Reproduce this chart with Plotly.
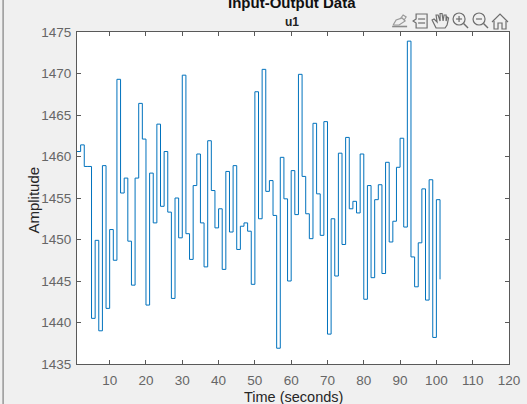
import plotly.graph_objects as go

time_s = list(range(1, 102))
amplitude = [
    1460.6, 1461.4, 1458.8, 1458.8, 1440.5, 1449.9, 1439.0, 1458.9, 1441.7, 1451.2,
    1447.5, 1469.3, 1455.6, 1457.4, 1449.8, 1444.5, 1457.4, 1466.4, 1462.1, 1442.1,
    1458.0, 1452.0, 1463.9, 1454.0, 1460.6, 1453.3, 1442.9, 1455.0, 1450.2, 1469.8,
    1450.7, 1447.6, 1456.5, 1460.3, 1452.0, 1446.7, 1461.9, 1455.9, 1451.4, 1453.7,
    1446.4, 1458.2, 1450.9, 1458.9, 1448.8, 1451.6, 1452.0, 1451.0, 1444.6, 1467.8,
    1452.5, 1470.5, 1455.8, 1457.1, 1452.9, 1436.9, 1459.9, 1454.9, 1445.0, 1458.3,
    1453.0, 1469.9, 1457.6, 1453.1, 1450.1, 1464.0, 1455.5, 1450.5, 1464.2, 1438.6,
    1452.5, 1445.6, 1460.4, 1449.4, 1462.3, 1453.7, 1454.6, 1453.2, 1460.3, 1442.8,
    1456.5, 1445.4, 1454.8, 1456.6, 1445.9, 1459.3, 1449.7, 1452.2, 1458.7, 1462.2,
    1451.5, 1473.9, 1447.9, 1444.3, 1449.6, 1456.1, 1442.7, 1457.2, 1438.2, 1454.8,
    1445.2,
]
x_ticks = [10, 20, 30, 40, 50, 60, 70, 80, 90, 100, 110, 120]
y_ticks = [1435, 1440, 1445, 1450, 1455, 1460, 1465, 1470, 1475]

W, H = 527, 404
L, T, B = 76.5, 32, 40
PLOT_RIGHT = 509
BG = "#f0f0f0"
AX = "#595959"
FONT = "Liberation Sans, Arial, sans-serif"


def fx(px):
    return (px - L) / (PLOT_RIGHT - L)


def fy(py):
    return 1 - (py - T) / (H - T - B)


def line_path(pts, closed=False):
    d = "M" + " L".join(f"{fx(a):.5f},{fy(b):.5f}" for a, b in pts)
    return d + (" Z" if closed else "")


def icon_line(pts, closed=False, color="#6e6e6e", width=1.2):
    return dict(type="path", xref="paper", yref="paper", path=line_path(pts, closed),
                line=dict(color=color, width=width), layer="above")


def icon_circle(cx, cy, r):
    return dict(type="circle", xref="paper", yref="paper",
                x0=fx(cx - r), x1=fx(cx + r), y0=fy(cy + r), y1=fy(cy - r),
                line=dict(color="#6e6e6e", width=1.2), layer="above")


icons = [
    icon_line([(393, 25), (396, 20), (402, 18), (405, 21), (399, 25), (393, 25)], color="#9a9a9a"),
    icon_line([(400, 19), (403, 15), (406, 17), (404, 20)], color="#9a9a9a"),
    icon_line([(392, 26.5), (407, 26.5)], color="#8a8a8a", width=1.6),
    icon_line([(416, 14), (427, 14), (427, 28), (416, 28), (416, 23), (413, 21), (416, 19)], True),
    icon_line([(418, 19), (425, 19)]),
    icon_line([(418, 23), (425, 23)]),
    icon_line([(436, 28), (432, 20), (434, 19), (437, 22), (436, 15), (438, 15), (440, 21),
               (440, 13.5), (442, 13.5), (443, 21), (444, 15), (446, 15), (446, 21), (447, 17),
               (448.5, 18), (447, 25), (445, 28)], True),
    icon_circle(459, 19, 6), icon_line([(463.5, 23.5), (468, 28)], width=1.4),
    icon_line([(456, 19), (462, 19)]), icon_line([(459, 16), (459, 22)]),
    icon_circle(479, 19, 6), icon_line([(483.5, 23.5), (488, 28)], width=1.4),
    icon_line([(476, 19), (482, 19)]),
    icon_line([(492, 22), (500, 14), (508, 22)]),
    icon_line([(494, 21), (494, 29), (498, 29), (498, 23), (502, 23), (502, 29), (506, 29), (506, 21)]),
    icon_line([(2.5, 0), (2.5, H)], color="#808080", width=1.2),
]

fig = go.Figure()
fig.add_trace(go.Scatter(x=time_s, y=amplitude, mode="lines",
                         line=dict(shape="hv", color="#0072BD", width=1),
                         hoverinfo="skip", showlegend=False))


def note(text, px, py, size, bold=False, color="#262626", angle=0):
    return dict(text=f"<b>{text}</b>" if bold else text, xref="paper", yref="paper",
                x=fx(px), y=fy(py), xanchor="center", yanchor="middle", showarrow=False,
                textangle=angle, font=dict(family=FONT, size=size, color=color))


axis = dict(showgrid=False, zeroline=False, showline=True, linecolor=AX, linewidth=1,
            mirror="ticks", ticks="inside", ticklen=4, tickcolor=AX, tickwidth=1, automargin=False,
            tickfont=dict(family=FONT, size=13.5, color="#666666"))

fig.update_layout(
    width=W, height=H, autosize=False,
    margin=dict(l=L, r=W - PLOT_RIGHT, t=T, b=B, pad=0),
    paper_bgcolor=BG, plot_bgcolor="white",
    font=dict(family=FONT),
    xaxis=dict(axis, range=[1, 120], tickmode="array", tickvals=x_ticks,
               ticktext=[str(t) for t in x_ticks], ticklabelstandoff=4),
    yaxis=dict(axis, range=[1435, 1475], tickmode="array", tickvals=y_ticks,
               ticktext=[str(t) for t in y_ticks], ticklabelstandoff=2),
    shapes=icons,
    annotations=[
        note("Input-Output Data", 292, 2.5, 15, bold=True, color="#111111"),
        note("u1", 292, 22, 12, bold=True, color="#222222"),
        note("Time (seconds)", 293, 397, 14.5),
        note("Amplitude", 32, 200, 15, angle=-90),
    ],
)

fig.write_html("out.html", config=dict(displayModeBar=False),
               post_script="document.body.style.margin='0';document.body.style.overflow='hidden';document.body.style.background='#f0f0f0';")
